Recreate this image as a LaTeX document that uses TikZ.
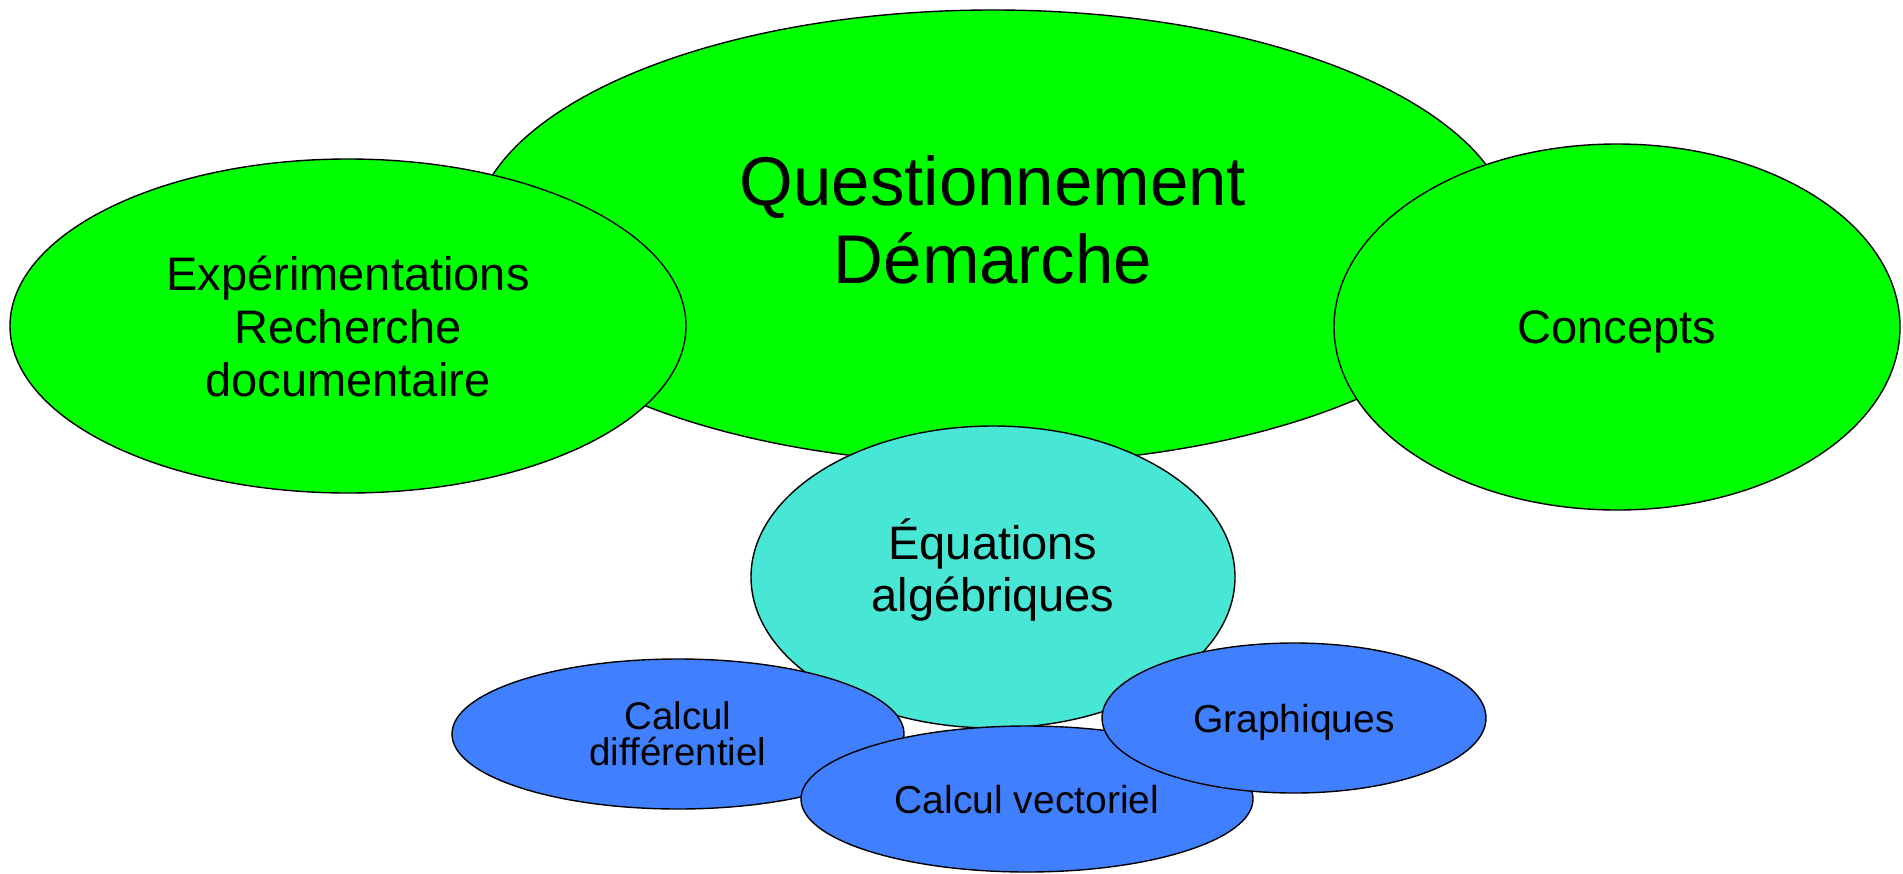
\documentclass[tikz,border=0pt]{standalone}
\usepackage{fontspec}
\setmainfont{Liberation Sans}
\usetikzlibrary{shapes.geometric}

\definecolor{bubgreen}{HTML}{00FF00}
\definecolor{bubcyan}{HTML}{48E6D4}
\definecolor{bubblue}{HTML}{4080FF}

\begin{document}
\begin{tikzpicture}[
		x=1pt,y=-1pt,
		bubble/.style={ellipse, draw=black, line width=1.4pt, inner sep=0pt, align=center, text depth=0pt},
		green bubble/.style={bubble, fill=bubgreen},
		cyan bubble/.style={bubble, fill=bubcyan},
		blue bubble/.style={bubble, fill=bubblue}
		]
		\useasboundingbox (0,0) rectangle (1903,873);
		
		% =========================
		% Top: green bubbles
		% =========================
		\node[green bubble, minimum width=1040, minimum height=454, text depth=36pt,
			font=\fontsize{69}{78}\selectfont] (quest) at (993,237)
			{Questionnement\\Démarche};
		
		\node[green bubble, minimum width=676, minimum height=334,
			font=\fontsize{47}{53}\selectfont] (exper) at (348,326)
			{Expérimentations\\Recherche\\documentaire};
		
		\node[green bubble, minimum width=566, minimum height=366,
			font=\fontsize{47}{53}\selectfont] (concepts) at (1617,327)
			{Concepts};
		
		% =========================
		% Middle: equations
		% =========================
		\node[cyan bubble, minimum width=484, minimum height=302, text depth=24pt,
			font=\fontsize{47}{52}\selectfont] (equations) at (993,577)
			{Équations\\algébriques};
		
		% =========================
		% Bottom: blue bubbles
		% =========================
		\node[blue bubble, minimum width=452, minimum height=150,
			font=\fontsize{38.5}{36}\selectfont] (caldiff) at (678,734)
			{Calcul\\différentiel};
		
		\node[blue bubble, minimum width=452, minimum height=146,
			font=\fontsize{39}{44}\selectfont] (calvect) at (1027,799)
			{Calcul vectoriel};
		
		\node[blue bubble, minimum width=384, minimum height=150,
			font=\fontsize{39}{44}\selectfont] (graph) at (1294,718)
			{Graphiques};
		
	\end{tikzpicture}
\end{document}
